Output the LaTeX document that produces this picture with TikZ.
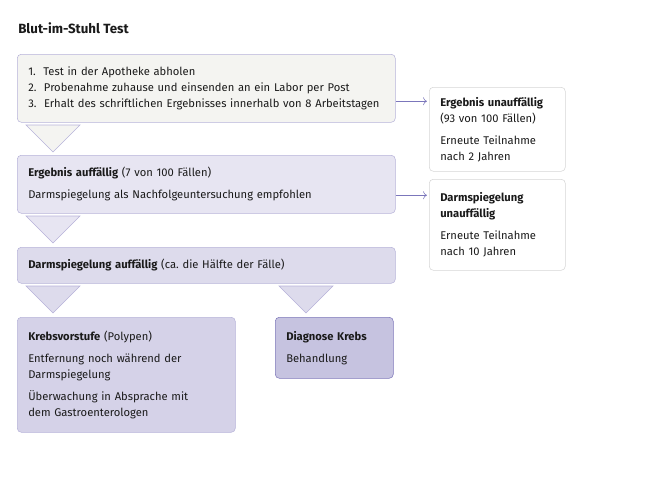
\documentclass[tikz,border=0pt]{standalone}
\usepackage{fontspec}
\setmainfont{Fira Sans}
\usetikzlibrary{arrows.meta}

\definecolor{boxline}{HTML}{B7B3D9}
\definecolor{fillA}{HTML}{F4F4F1}
\definecolor{fillB}{HTML}{E7E5F2}
\definecolor{fillC}{HTML}{DDDBEC}
\definecolor{fillD}{HTML}{D5D2E8}
\definecolor{fillE}{HTML}{C6C3E0}
\definecolor{lineE}{HTML}{7E78BA}
\definecolor{sideline}{HTML}{D6D6D6}
\definecolor{arrowcol}{HTML}{7B76BB}
\definecolor{ink}{HTML}{1A1A1A}

\tikzset{
  box/.style={draw=boxline, rounded corners=3pt, anchor=north west, align=left,
    inner xsep=8.25pt, inner ysep=0pt, text=ink,
    font=\fontsize{8.4}{12}\selectfont},
  side/.style={box, draw=sideline, fill=white},
  tri/.style={draw=boxline, line join=miter},
  flow/.style={draw=arrowcol, shorten >=1.5pt, -{To[length=3pt,width=6pt]}}
}

\begin{document}
\begin{tikzpicture}[x=0.75pt,y=-0.75pt]
  \useasboundingbox (0,0) rectangle (650,490);

  % title
  \node[anchor=west, inner sep=0pt, text=ink, font=\fontsize{10}{12}\selectfont\bfseries] (title) at (18,28) {Blut-im-Stuhl Test};

  % main column
  \node[box, fill=fillA, text width=267pt, minimum height=51pt] (test) at (17,54)
    {1.\ \ Test in der Apotheke abholen\\
     2.\ \ Probenahme zuhause und einsenden an ein Labor per Post\\
     3.\ \ Erhalt des schriftlichen Ergebnisses innerhalb von 8 Arbeitstagen};
  \node[box, fill=fillB, text width=267pt, minimum height=43.5pt] (auff) at (17,155)
    {\textbf{Ergebnis auffällig} (7 von 100 Fällen)\\[4.5pt]
     Darmspiegelung als Nachfolgeuntersuchung empfohlen};
  \node[box, fill=fillC, text width=267pt, minimum height=27pt] (darm) at (17,247)
    {\textbf{Darmspiegelung auffällig} (ca.\ die Hälfte der Fälle)};
  \node[box, fill=fillD, text width=147pt, minimum height=86.25pt] (vorstufe) at (17,317)
    {\textbf{Krebsvorstufe} (Polypen)\\[4.5pt]
     Entfernung noch während der\\ Darmspiegelung\\[4.5pt]
     Überwachung in Absprache mit\\ dem Gastroenterologen};
  \node[box, draw=lineE, fill=fillE, text width=72pt, minimum height=45.75pt] (krebs) at (275,317)
    {\textbf{Diagnose Krebs}\\[4.5pt]
     Behandlung};

  % side column
  \node[side, text width=85.5pt, minimum height=63pt] (unauff) at (429,87)
    {\textbf{Ergebnis unauffällig}\\ (93 von 100 Fällen)\\[4.5pt]
     Erneute Teilnahme\\ nach 2 Jahren};
  \node[side, text width=85.5pt, minimum height=68.25pt] (darmok) at (429,179)
    {\textbf{Darmspiegelung}\\ \textbf{unauffällig}\\[4.5pt]
     Erneute Teilnahme\\ nach 10 Jahren};

  % triangles
  \draw[tri, fill=fillA] (26,125) -- ++(54,0) -- ++(-27,27) -- cycle;
  \draw[tri, fill=fillB] (26,216) -- ++(54,0) -- ++(-27,27) -- cycle;
  \draw[tri, fill=fillC] (26,286) -- ++(54,0) -- ++(-27,27) -- cycle;
  \draw[tri, fill=fillC] (279,286) -- ++(54,0) -- ++(-27,27) -- cycle;

  % arrows
  \draw[flow] ([yshift=-9.75pt]test.east) coordinate (a1) -- (a1 -| unauff.west);
  \draw[flow] ([yshift=-8.25pt]auff.east) coordinate (a2) -- (a2 -| darmok.west);
\end{tikzpicture}
\end{document}
